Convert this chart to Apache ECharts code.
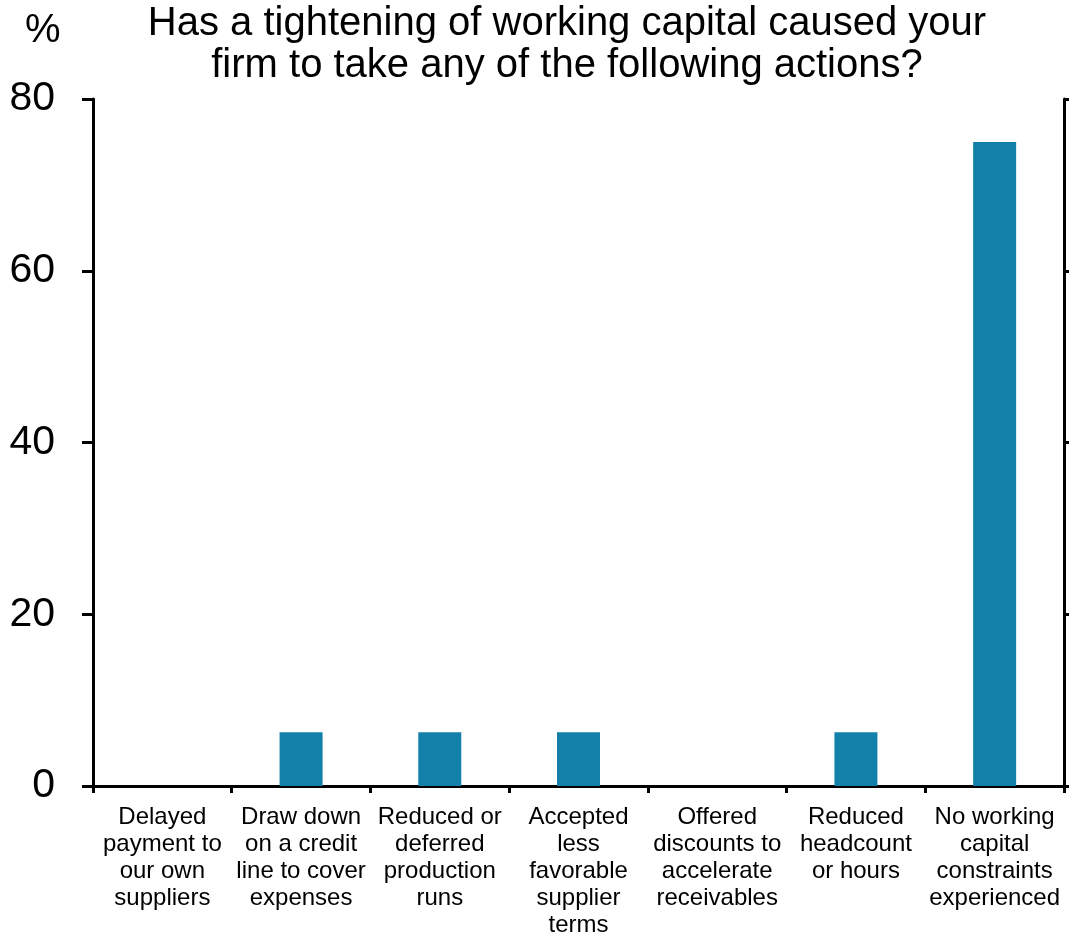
<!DOCTYPE html>
<html><head><meta charset="utf-8">
<script src="https://cdn.jsdelivr.net/npm/echarts@6/dist/echarts.min.js"></script>
<style>html,body{margin:0;padding:0;background:#fff}#c{width:1069px;height:940px}</style>
</head><body><div id="c"></div>
<script>
const categories = [
  "Delayed\npayment to\nour own\nsuppliers",
  "Draw down\non a credit\nline to cover\nexpenses",
  "Reduced or\ndeferred\nproduction\nruns",
  "Accepted\nless\nfavorable\nsupplier\nterms",
  "Offered\ndiscounts to\naccelerate\nreceivables",
  "Reduced\nheadcount\nor hours",
  "No working\ncapital\nconstraints\nexperienced"
];
const values = [0, 6.25, 6.25, 6.25, 0, 6.25, 75];
const yTicks = [0, 20, 40, 60, 80];
const titleText = "Has a tightening of working capital caused your\nfirm to take any of the following actions?";
const unitLabel = "%";

const chart = echarts.init(document.getElementById('c'));
const font = "Liberation Sans, Arial, sans-serif";
chart.setOption({
  animation: false,
  backgroundColor: '#fff',
  title: {
    text: titleText, left: 562, top: -2, textAlign: 'center',
    textStyle: {fontFamily: font, fontSize: 40, fontWeight: 'normal', color: '#000', lineHeight: 42}
  },
  graphic: [{type: 'text', left: 25, top: 11, style: {text: unitLabel, font: '40px ' + font, fill: '#000'}}],
  grid: {left: 93, right: 5, top: 99, bottom: 154, containLabel: false},
  xAxis: {
    type: 'category', data: categories,
    axisLine: {lineStyle: {color: '#000', width: 3}},
    axisTick: {show: true, alignWithLabel: false, length: 7, lineStyle: {color: '#000', width: 3}},
    axisLabel: {interval: 0, fontFamily: font, fontSize: 24, color: '#000', lineHeight: 27, margin: 18}
  },
  yAxis: [{
    type: 'value', min: yTicks[0], max: yTicks[yTicks.length-1], interval: 20,
    splitLine: {show: false},
    axisLine: {show: true, lineStyle: {color: '#000', width: 3}},
    axisTick: {show: true, length: 11, lineStyle: {color: '#000', width: 3}},
    axisLabel: {fontFamily: font, fontSize: 41, color: '#000', margin: 38, padding: [3, 0, 0, 0]}
  }, {
    type: 'value', min: yTicks[0], max: yTicks[yTicks.length-1], interval: 20, position: 'right',
    splitLine: {show: false},
    axisLine: {show: true, lineStyle: {color: '#000', width: 3}},
    axisTick: {show: true, length: 8, lineStyle: {color: '#000', width: 3}},
    axisLabel: {show: false}
  }],
  series: [{
    type: 'bar', data: values, barWidth: 43,
    itemStyle: {color: '#1380a9'}
  }]
});
</script></body></html>
